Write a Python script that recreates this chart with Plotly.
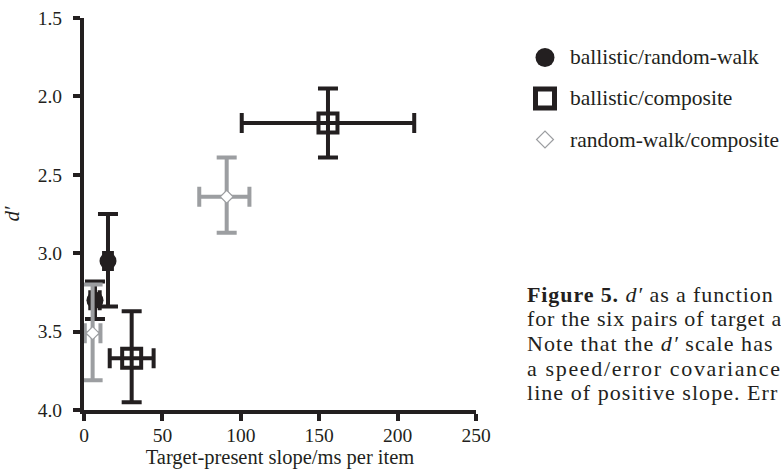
import plotly.graph_objects as go

# ---------------- data ----------------
series_names = ["ballistic/random-walk", "ballistic/composite", "random-walk/composite"]

br_x = [15.3, 7.0]
br_y = [3.05, 3.30]
br_x_err_plus = [2.5, 3.0]
br_x_err_minus = [2.5, 3.0]
br_y_err_plus = [0.29, 0.12]
br_y_err_minus = [0.30, 0.12]

bc_x = [155.6, 30.4]
bc_y = [2.17, 3.67]
bc_x_err_plus = [55.0, 14.0]
bc_x_err_minus = [55.0, 14.0]
bc_y_err_plus = [0.22, 0.28]
bc_y_err_minus = [0.22, 0.30]

rc_x = [91.0, 5.5]
rc_y = [2.64, 3.51]
rc_x_err_plus = [14.5, 5.0]
rc_x_err_minus = [17.5, 5.0]
rc_y_err_plus = [0.23, 0.30]
rc_y_err_minus = [0.25, 0.31]

x_ticks = [0, 50, 100, 150, 200, 250]
y_ticks = [1.5, 2.0, 2.5, 3.0, 3.5, 4.0]

caption_lines = [
    "<b>Figure 5.</b> <i>d\u2032</i> as a function",
    "for the six pairs of target a",
    "Note that the <i>d\u2032</i> scale has",
    "a speed/error covariance",
    "line of positive slope. Err",
]
caption_spacing = [0.9, 0.8, 1.05, 1.65, 1.05]

# ---------------- style ----------------
BLACK = "#231f20"
GRAY = "#9c9ea1"
FONT = "Liberation Serif"
W, H = 781, 469
ML, MR, MT, MB = 84, 0, 18, 59
PW, PH = W - ML - MR, H - MT - MB
PLOT_RIGHT = 476


def px_x(px):
    return (px - ML) / PW


def px_y(py):
    return (H - MB - py) / PH


def err(plus, minus, color):
    return dict(type="data", symmetric=False, array=plus, arrayminus=minus,
                color=color, thickness=4, width=10)


fig = go.Figure()

fig.add_trace(go.Scatter(
    x=br_x, y=br_y, mode="markers", name=series_names[0], showlegend=False,
    marker=dict(symbol="circle", size=17, color=BLACK, line=dict(width=0)),
    error_x=err(br_x_err_plus, br_x_err_minus, BLACK),
    error_y=err(br_y_err_plus, br_y_err_minus, BLACK),
))
fig.add_trace(go.Scatter(
    x=bc_x, y=bc_y, mode="markers", name=series_names[1], showlegend=False,
    marker=dict(symbol="square-open", size=19, color=BLACK, line=dict(width=4, color=BLACK)),
    error_x=err(bc_x_err_plus, bc_x_err_minus, BLACK),
    error_y=err(bc_y_err_plus, bc_y_err_minus, BLACK),
))
fig.add_trace(go.Scatter(
    x=rc_x, y=rc_y, mode="markers", name=series_names[2], showlegend=False,
    marker=dict(symbol="diamond", size=10, color="white", line=dict(width=1.2, color=GRAY)),
    error_x=err(rc_x_err_plus, rc_x_err_minus, GRAY),
    error_y=err(rc_y_err_plus, rc_y_err_minus, GRAY),
))

# ---------------- custom legend ----------------
leg_symbols = [
    dict(symbol="circle", size=19, color=BLACK, line=dict(width=0)),
    dict(symbol="square-open", size=19, color=BLACK, line=dict(width=5, color=BLACK)),
    dict(symbol="diamond", size=13, color="white", line=dict(width=1.2, color=GRAY)),
]
for i, (nm, mk) in enumerate(zip(series_names, leg_symbols)):
    fig.add_trace(go.Scatter(x=[0.5], y=[i], mode="markers", marker=mk,
                             xaxis="x2", yaxis="y2", showlegend=False, hoverinfo="skip"))
    fig.add_annotation(x=px_x(568), y=i, xref="paper", yref="y2", text=nm,
                       showarrow=False, xanchor="left", yanchor="middle",
                       font=dict(family=FONT, size=21.5, color=BLACK))

# ---------------- caption ----------------
for j, (line, ls) in enumerate(zip(caption_lines, caption_spacing)):
    fig.add_annotation(x=px_x(525), y=px_y(294 + j * 24.7), xref="paper", yref="paper",
                       text=f'<span style="letter-spacing:{ls}px">{line}</span>',
                       showarrow=False, xanchor="left", yanchor="middle",
                       font=dict(family=FONT, size=22, color=BLACK))

axis_common = dict(
    showline=True, linewidth=4, linecolor=BLACK, showgrid=False, zeroline=False,
    ticks="outside", ticklen=7, tickwidth=4, tickcolor=BLACK, automargin=False,
    tickfont=dict(family=FONT, size=19.5, color=BLACK),
)

fig.update_layout(
    width=W, height=H,
    margin=dict(l=ML, r=MR, t=MT, b=MB, pad=0),
    paper_bgcolor="white", plot_bgcolor="white",
    showlegend=False,
    xaxis=dict(**axis_common, domain=[0, (PLOT_RIGHT - ML) / PW], range=[0, 250],
               tickvals=x_ticks, ticktext=[str(v) for v in x_ticks],
               title=dict(text="Target-present slope/ms per item", standoff=10,
                          font=dict(family=FONT, size=20.5, color=BLACK)),
               anchor="y", ticklabelstandoff=-2),
    yaxis=dict(**axis_common, range=[4.0, 1.5], tickvals=y_ticks,
               ticktext=[f"{v:.1f}" for v in y_ticks],
               title=dict(text="<i>d\u2032</i>", standoff=19,
                          font=dict(family=FONT, size=21, color=BLACK)),
               anchor="x", ticklabelstandoff=7),
    xaxis2=dict(domain=[px_x(530), px_x(560)], range=[0, 1], visible=False,
                anchor="y2", fixedrange=True),
    yaxis2=dict(domain=[px_y(160), px_y(37)], range=[2.5, -0.5], visible=False,
                anchor="x2", fixedrange=True),
)

fig.write_html("out.html")
